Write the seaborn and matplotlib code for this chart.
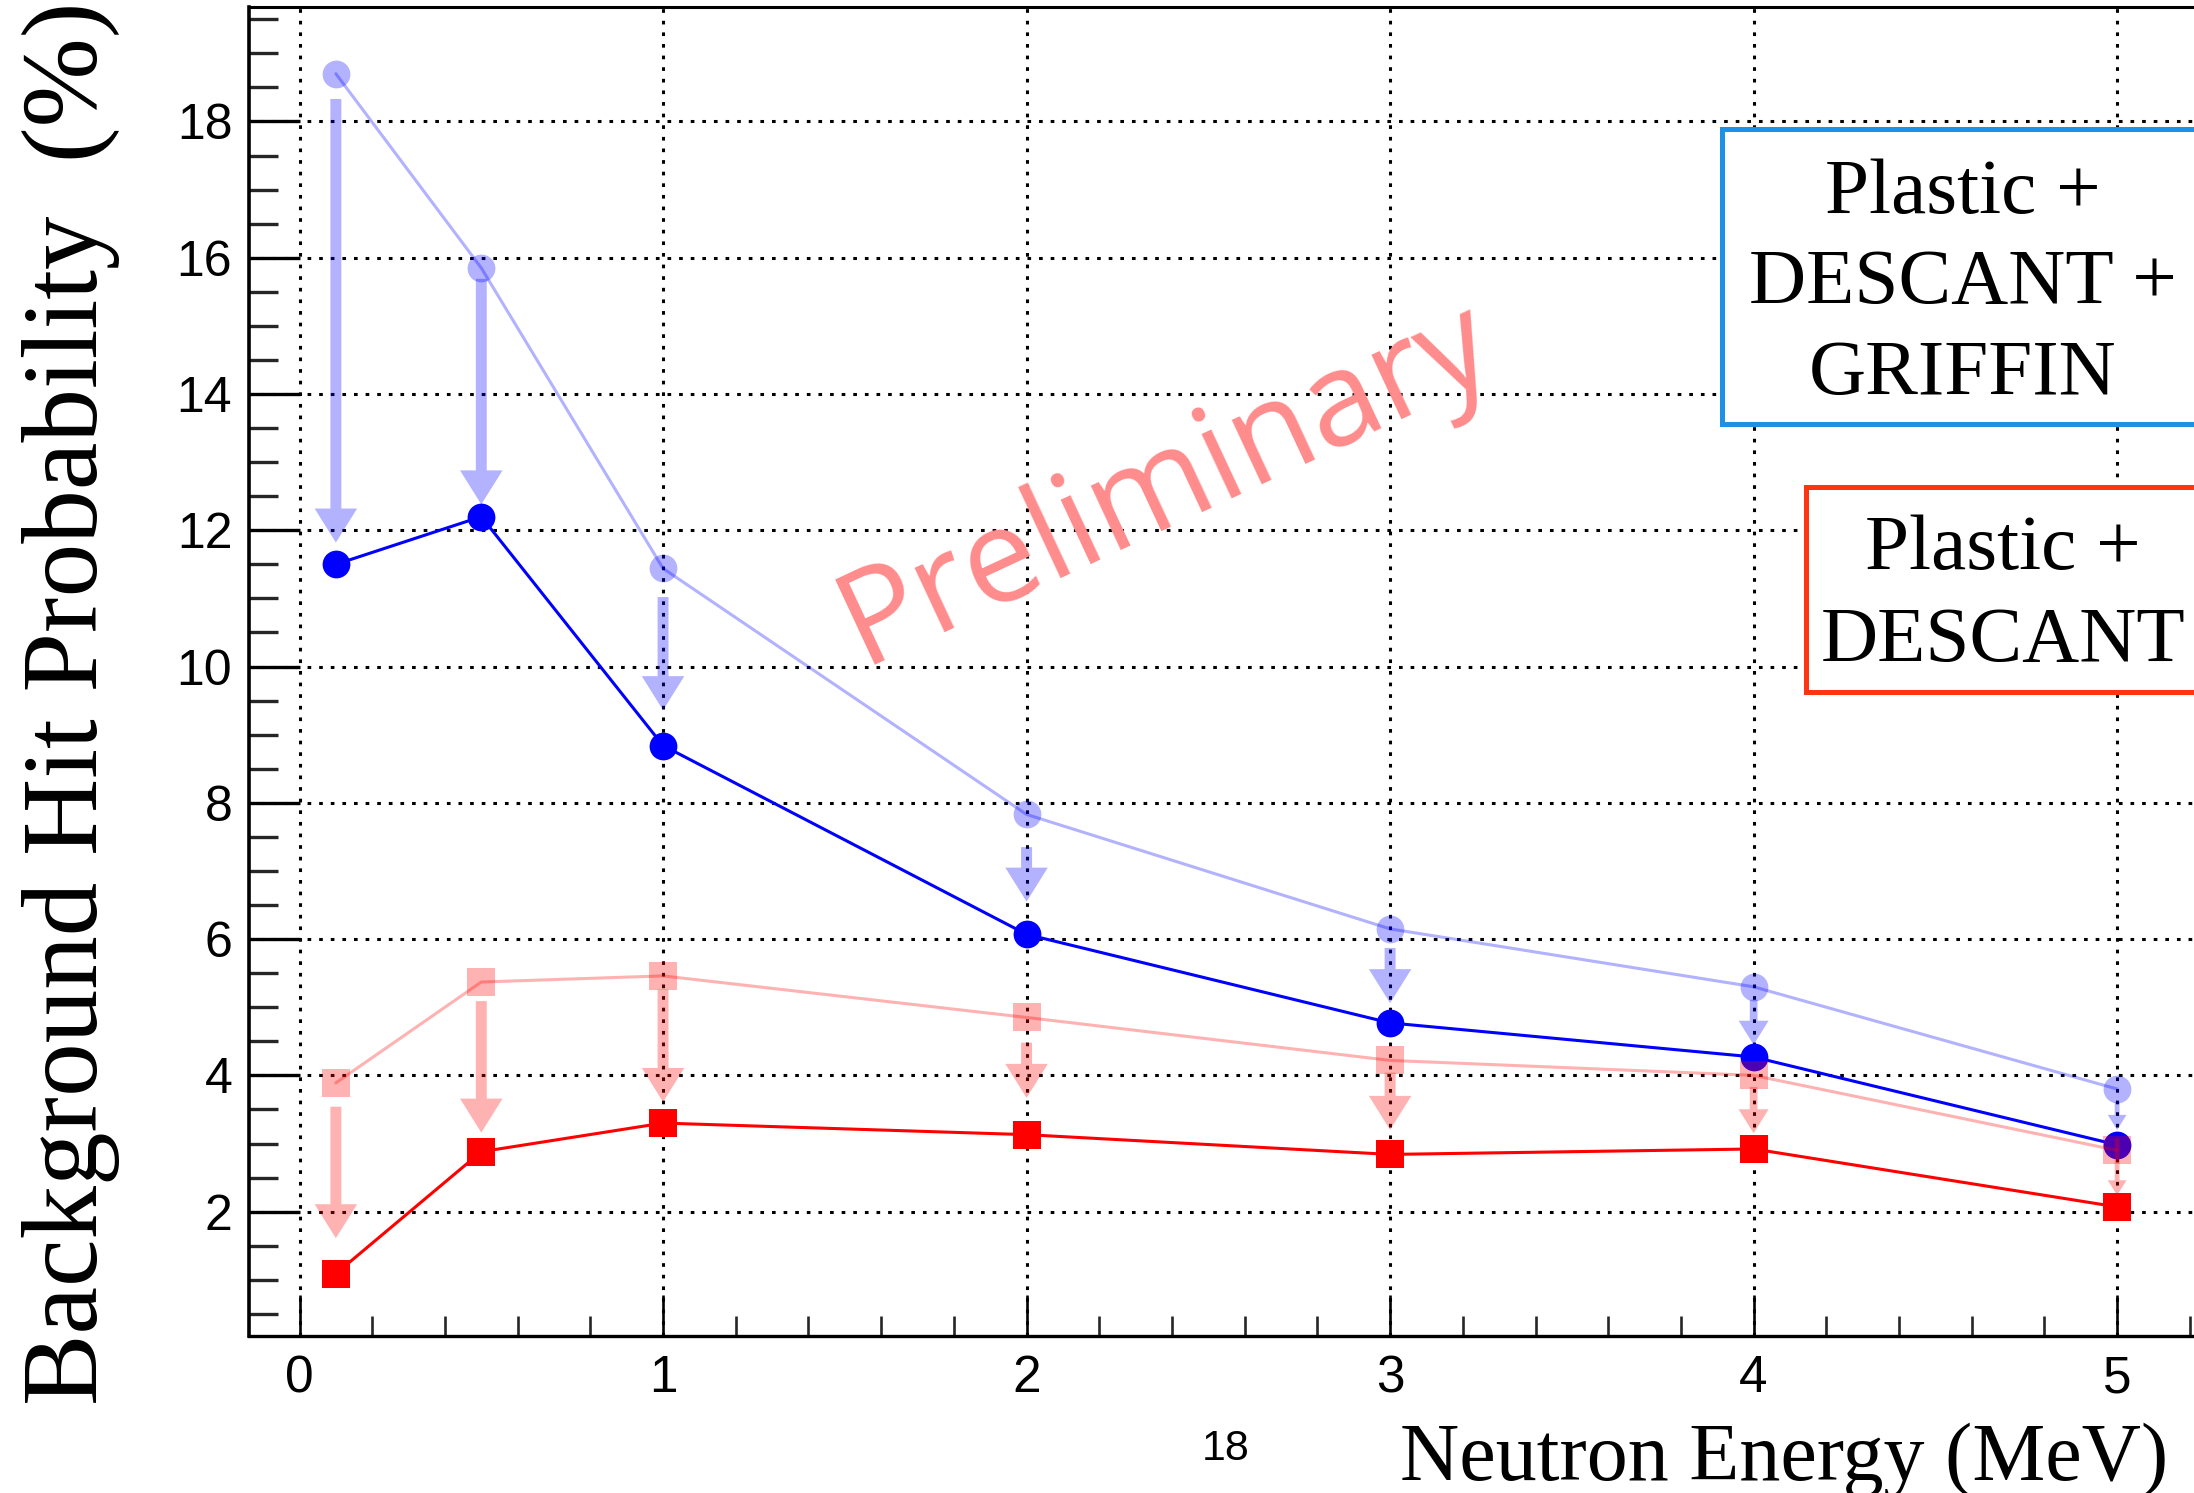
import matplotlib
matplotlib.use("Agg")
import matplotlib.pyplot as plt
from matplotlib.patches import Rectangle, FancyArrowPatch
from matplotlib.ticker import MultipleLocator
import seaborn as sns
import pandas as pd

# ---------------- data ----------------
energy = [0.1, 0.5, 1, 2, 3, 4, 5]
griffin_before = [18.70, 15.85, 11.44, 7.83, 6.15, 5.30, 3.80]
griffin_after = [11.50, 12.20, 8.84, 6.07, 4.77, 4.27, 2.98]
descant_before = [3.89, 5.37, 5.46, 4.85, 4.22, 4.00, 2.90]
descant_after = [1.09, 2.88, 3.30, 3.13, 2.84, 2.92, 2.07]

# arrow start / end values
griffin_arrow_start = [18.33, 15.69, 11.02, 7.35, 5.87, 5.11, 3.61]
griffin_arrow_end = [11.82, 12.38, 9.36, 6.55, 5.06, 4.45, 3.20]
descant_arrow_start = [3.54, 5.09, 5.26, 4.48, 4.04, 3.83, 3.08]
descant_arrow_end = [1.61, 3.16, 3.61, 3.67, 3.20, 3.15, 2.24]

x_ticks = [0, 1, 2, 3, 4, 5]
y_ticks = [2, 4, 6, 8, 10, 12, 14, 16, 18]
xlabel = "Neutron Energy (MeV)"
ylabel = "Background Hit Probability  (%)"
box1_lines = ["Plastic +", "DESCANT +", "GRIFFIN"]
box2_lines = ["Plastic +", "DESCANT"]
watermark = "Preliminary"
page_number = "18"

# arrow head sizes in pixels (style)
arrow_head_px = [34, 34, 34, 34, 34, 24, 15]

# ---------------- style ----------------
sns.set_style("white")
plt.rcParams["font.family"] = ["Liberation Sans", "DejaVu Sans"]

W, H = 2194, 1493
fig = plt.figure(figsize=(W / 100, H / 100), dpi=100)


def fx(px):
    return px / W


def fy(py):
    return 1 - py / H


ax = fig.add_axes([fx(249), fy(1336), fx(2304) - fx(249), fy(7) - fy(1336)])
ax.set_xlim(-0.139, 5.514)
ax.set_ylim(0.175, 19.68)

df = pd.DataFrame({
    "energy": energy,
    "griffin_before": griffin_before,
    "griffin_after": griffin_after,
    "descant_before": descant_before,
    "descant_after": descant_after,
})

blue = (0, 0, 1)
red = (1, 0, 0)
light_blue = (0, 0, 1, 0.3)
light_red = (1, 0, 0, 0.3)
ms = 20
lw = 2.2

sns.lineplot(data=df, x="energy", y="griffin_before", ax=ax, color=blue, alpha=0.3,
             marker="o", markersize=ms, markeredgewidth=0, linewidth=lw,
             estimator=None, sort=False, zorder=3)
sns.lineplot(data=df, x="energy", y="griffin_after", ax=ax, color=blue,
             marker="o", markersize=ms, markeredgewidth=0, linewidth=lw,
             estimator=None, sort=False, zorder=3)
sns.lineplot(data=df, x="energy", y="descant_before", ax=ax, color=red, alpha=0.3,
             marker="s", markersize=ms, markeredgewidth=0, linewidth=lw,
             estimator=None, sort=False, zorder=3)
sns.lineplot(data=df, x="energy", y="descant_after", ax=ax, color=red,
             marker="s", markersize=ms, markeredgewidth=0, linewidth=lw,
             estimator=None, sort=False, zorder=3)


def draw_arrows(xs, starts, ends, color):
    for x, y0, y1, head_px in zip(xs, starts, ends, arrow_head_px):
        hl = head_px * 0.72
        hw = head_px * 0.72 * 1.25
        tw = head_px * 0.23 * 0.72 * 1.4
        arr = FancyArrowPatch((x, y0), (x, y1),
                              arrowstyle=f"simple,head_length={hl},head_width={hw},tail_width={tw}",
                              mutation_scale=1, color=color, lw=0,
                              shrinkA=0, shrinkB=0, zorder=4)
        ax.add_patch(arr)


draw_arrows(energy, griffin_arrow_start, griffin_arrow_end, light_blue)
draw_arrows(energy, descant_arrow_start, descant_arrow_end, light_red)

# ---------------- axes styling ----------------
ax.set_xlabel("")
ax.set_ylabel("")
ax.xaxis.set_minor_locator(MultipleLocator(0.2))
ax.yaxis.set_minor_locator(MultipleLocator(0.5))
ax.set_xticks(x_ticks)
ax.set_xticklabels([str(v) for v in x_ticks])
ax.set_yticks(y_ticks)
ax.set_yticklabels([str(v) for v in y_ticks])

ax.set_axisbelow(True)
ax.grid(True, which="major", color="black", linestyle=(0, (1.2, 2.6)), linewidth=2.2)

ax.tick_params(axis="y", which="major", direction="in", length=36.7, width=2.4,
               labelsize=36, pad=12, left=True, right=False, colors="black")
ax.tick_params(axis="y", which="minor", direction="in", length=21, width=2.4, left=True, right=False)
ax.tick_params(axis="x", which="major", direction="in", length=29.5, width=1.9,
               labelsize=37, pad=13, bottom=True, top=False, colors="black")
ax.tick_params(axis="x", which="minor", direction="in", length=14.4, width=1.9, bottom=True, top=False)

for side in ["left", "bottom", "top", "right"]:
    ax.spines[side].set_visible(True)
    ax.spines[side].set_color("black")
ax.spines["left"].set_linewidth(2.6)
ax.spines["bottom"].set_linewidth(2.4)
ax.spines["top"].set_linewidth(2.2)

# ---------------- watermark ----------------
ax.text(fx(1180), fy(516), watermark, transform=fig.transFigure, rotation=25,
        rotation_mode="anchor", ha="center", va="baseline", fontsize=95,
        family=["Open Sans", "DejaVu Sans"], color="#FF8C8C", zorder=2)

# ---------------- labels ----------------
fig.text(fx(97), 0.529, ylabel, rotation=90, rotation_mode="anchor",
         ha="center", va="baseline", fontsize=77,
         family=["Liberation Serif", "DejaVu Serif"], color="black")
fig.text(fx(2168), fy(1480), xlabel, ha="right", va="baseline", fontsize=59,
         family=["Liberation Serif", "DejaVu Serif"], color="black")
fig.text(fx(1226), fy(1460), page_number, ha="center", va="baseline", fontsize=31,
         family=["Liberation Sans", "DejaVu Sans"], color="black")

# ---------------- label boxes ----------------
r1 = Rectangle((fx(1722), fy(424)), fx(2400) - fx(1722), fy(129) - fy(424),
               transform=fig.transFigure, facecolor="white", edgecolor="#1E90E6",
               linewidth=3.6, zorder=10)
fig.add_artist(r1)
for txt, base in zip(box1_lines, [213, 303, 394]):
    t = fig.text(fx(1963), fy(base), txt, ha="center", va="baseline", fontsize=57,
                 family=["Liberation Serif", "DejaVu Serif"], color="black")
    t.set_zorder(11)

r2 = Rectangle((fx(1806), fy(692)), fx(2400) - fx(1806), fy(487) - fy(692),
               transform=fig.transFigure, facecolor="white", edgecolor="#FF3410",
               linewidth=3.6, zorder=10)
fig.add_artist(r2)
for txt, base in zip(box2_lines, [569, 661]):
    t = fig.text(fx(2003), fy(base), txt, ha="center", va="baseline", fontsize=57,
                 family=["Liberation Serif", "DejaVu Serif"], color="black")
    t.set_zorder(11)

fig.savefig("out.png", dpi=100)
